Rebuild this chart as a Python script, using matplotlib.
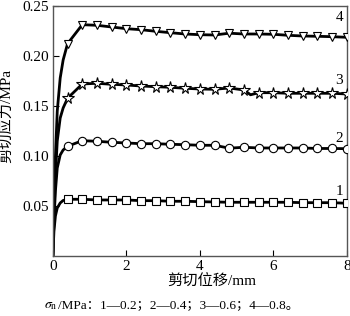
import numpy as np
import matplotlib
matplotlib.use('Agg')
import matplotlib.pyplot as plt

plt.rcParams['font.family'] = ['Liberation Serif', 'Noto Sans CJK SC']
plt.rcParams['mathtext.fontset'] = 'stix'

# 剪切位移 (mm): 上升段 + 标记点
rise_x = [0, 0.03, 0.07, 0.12, 0.2, 0.28]
mark_x = [0.4, 0.8, 1.2, 1.6, 2.0, 2.4, 2.8, 3.2, 3.6, 4.0,
          4.4, 4.8, 5.2, 5.6, 6.0, 6.4, 6.8, 7.2, 7.6, 8.0]

# 剪切应力 (MPa)
rise_1 = [0, 0.025, 0.040, 0.048, 0.053, 0.0555]
mark_1 = [0.0567, 0.0567, 0.056, 0.056, 0.056, 0.0553, 0.0553, 0.0547, 0.0547, 0.0543,
          0.054, 0.0537, 0.0537, 0.0537, 0.0537, 0.0537, 0.0533, 0.0533, 0.0533, 0.0527]

rise_2 = [0, 0.035, 0.065, 0.088, 0.101, 0.106]
mark_2 = [0.1097, 0.1153, 0.1147, 0.1137, 0.113, 0.1123, 0.1123, 0.1117, 0.1113, 0.1107,
          0.1107, 0.1078, 0.1087, 0.108, 0.108, 0.108, 0.108, 0.1075, 0.1075, 0.1073]

rise_3 = [0, 0.04, 0.08, 0.115, 0.138, 0.148]
mark_3 = [0.1577, 0.172, 0.1727, 0.1717, 0.171, 0.170, 0.1693, 0.1687, 0.1677, 0.167,
          0.1667, 0.168, 0.166, 0.1633, 0.1633, 0.1627, 0.1627, 0.1627, 0.1627, 0.162]
dip_3 = (5.38, 0.1612)

rise_4 = [0, 0.05, 0.10, 0.145, 0.178, 0.196]
mark_4 = [0.2123, 0.2313, 0.2307, 0.229, 0.2273, 0.2263, 0.2247, 0.2233, 0.222, 0.2213,
          0.221, 0.2228, 0.222, 0.222, 0.2217, 0.2207, 0.22, 0.2197, 0.2193, 0.2187]

curves = [
    ('1', rise_1, mark_1, 's', 0.064),
    ('2', rise_2, mark_2, 'o', 0.117),
    ('3', rise_3, mark_3, '*', 0.175),
    ('4', rise_4, mark_4, 'v', 0.239),
]

fig = plt.figure(figsize=(3.5, 3.16), dpi=100)
ax = fig.add_axes([0.151, 0.19, 0.84, 0.791])

for name, ry, my, mk, ly in curves:
    xs = list(rise_x) + list(mark_x)
    ys = list(ry) + list(my)
    if name == '3':
        xs.append(dip_3[0])
        ys.append(dip_3[1])
        order = np.argsort(xs)
        xs = np.array(xs)[order]
        ys = np.array(ys)[order]
    ax.plot(xs, ys, color='black', lw=2.0, zorder=2)
    ms = 8.5 if mk == '*' else 6
    ax.plot(mark_x, my, linestyle='none', marker=mk, ms=ms, mfc='white',
            mec='black', mew=0.8, zorder=3)
    ax.text(7.8, ly, name, fontsize=11, ha='center', va='center')

ax.set_xlim(0, 8)
ax.set_ylim(0, 0.25)
ax.set_xticks([0, 2, 4, 6, 8])
ax.set_yticks([0.05, 0.10, 0.15, 0.20, 0.25])
ax.set_yticklabels(['0.05', '0.10', '0.15', '0.20', '0.25'])
ax.tick_params(direction='in', length=4, width=0.8, labelsize=11, pad=3)
for s in ax.spines.values():
    s.set_color('#555555')
    s.set_linewidth(1.0)

ax.set_xlabel('剪切位移/mm', fontsize=11)
ax.xaxis.set_label_coords(0.54, -0.075)
ax.set_ylabel('剪切应力/MPa', fontsize=11)
ax.yaxis.set_label_coords(-0.135, 0.56)

# 图注: 希腊字母用 mathtext, 其余用普通文本
fig.text(0.165, 0.033, r'$\sigma_\mathrm{n}$', ha='right', va='center', fontsize=10)
fig.text(0.165, 0.033, '/MPa：1—0.2；2—0.4；3—0.6；4—0.8。',
         ha='left', va='center', fontsize=9.5)

fig.savefig('out.png', dpi=100)
